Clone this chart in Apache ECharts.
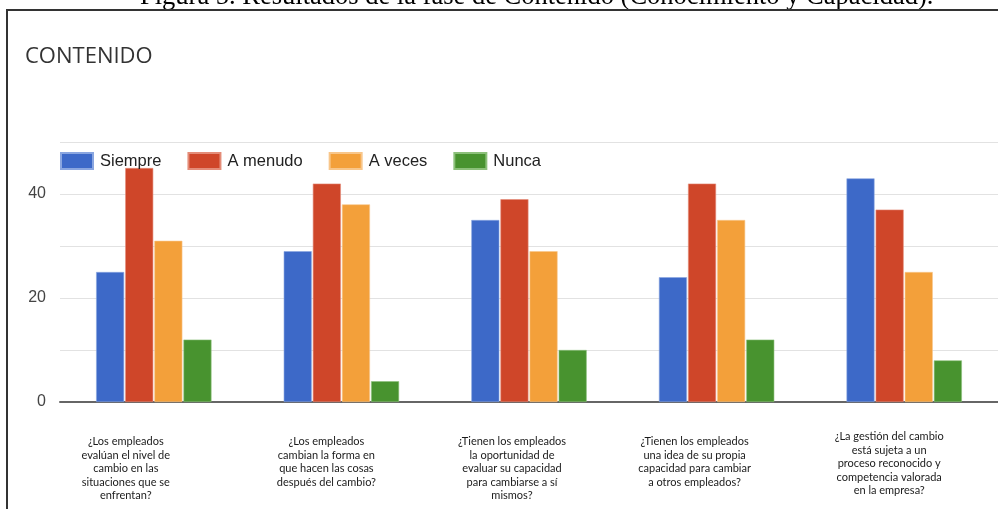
<!DOCTYPE html>
<html>
<head>
<meta charset="utf-8">
<script src="https://cdn.jsdelivr.net/npm/echarts@6/dist/echarts.min.js"></script>
<style>
  html, body { margin: 0; padding: 0; background: #fff; }
  #chart { width: 998px; height: 509px; }
</style>
</head>
<body>
<div id="chart"></div>
<script>
// question labels (line breaks as in the picture)
const categories = [
  "¿Los empleados\nevalúan el nivel de\ncambio en las\nsituaciones que se\nenfrentan?",
  "¿Los empleados\ncambian la forma en\nque hacen las cosas\ndespués del cambio?",
  "¿Tienen los empleados\nla oportunidad de\nevaluar su capacidad\npara cambiarse a sí\nmismos?",
  "¿Tienen los empleados\nuna idea de su propia\ncapacidad para cambiar\na otros empleados?",
  "¿La gestión del cambio\nestá sujeta a un\nproceso reconocido y\ncompetencia valorada\nen la empresa?"
];

const seriesNames = ["Siempre", "A menudo", "A veces", "Nunca"];
const siempre = [25, 29, 35, 24, 43];
const aMenudo = [45, 42, 39, 42, 37];
const aVeces = [31, 38, 29, 35, 25];
const nunca = [12, 4, 10, 12, 8];

const yMin = 0;
const yMax = 50;
const yStep = 10;
const yLabelStep = 20;

const colors = ["#3d69c8", "#cf4629", "#f3a03a", "#48932f"];
const borders = ["#8aa6e0", "#e48c78", "#f8c68a", "#8cc07a"];

// the question labels sit a bit left of their bar groups in the original
const labelShift = [28, 15, 17, 22, 15];
const labelLift = [0, 0, 0, 0, 5];

const chart = echarts.init(document.getElementById("chart"), null, { renderer: "canvas" });

const values = [siempre, aMenudo, aVeces, nunca];

chart.setOption({
  animation: false,
  backgroundColor: "#fff",
  title: {
    text: "CONTENIDO",
    left: 20,
    top: 41,
    textStyle: { fontFamily: "Open Sans", fontSize: 22, fontWeight: "normal", color: "#333" }
  },
  // figure caption cut at top + document box border
  graphic: [
    {
      type: "text",
      left: 140,
      top: -16,
      style: {
        text: "Figura 5. Resultados de la fase de Contenido (Conocimiento y Capacidad).",
        font: "26.5px 'Liberation Serif'",
        fill: "#000"
      }
    },
    {
      type: "rect",
      shape: { x: 7, y: 10, width: 1100, height: 600 },
      style: { fill: "none", stroke: "#333", lineWidth: 2 }
    }
  ],
  legend: {
    data: seriesNames,
    left: 60,
    top: 152,
    padding: 0,
    itemWidth: 32,
    itemHeight: 16,
    itemGap: 26,
    icon: "rect",
    textStyle: { fontFamily: "Liberation Sans", fontSize: 16.5, color: "#222", padding: [0, 0, 0, 2] }
  },
  grid: { left: 60, right: -2, top: 142, bottom: 107 },
  xAxis: {
    type: "category",
    data: categories.map((c, i) => ({
      value: c,
      textStyle: { padding: [5 - labelLift[i], labelShift[i] * 2, 0, 0] }
    })),
    axisTick: { show: false },
    axisLine: { lineStyle: { color: "#666", width: 2 } },
    axisLabel: {
      interval: 0,
      margin: 28,
      fontFamily: "Lato",
      fontSize: 11,
      lineHeight: 13.5,
      color: "#1a1a1a",
      align: "center"
    }
  },
  yAxis: {
    type: "value",
    min: yMin,
    max: yMax,
    interval: yStep,
    axisLine: { show: false },
    axisTick: { show: false },
    splitLine: { lineStyle: { color: "#e2e2e2", width: 1 } },
    axisLabel: {
      margin: 14,
      fontFamily: "Liberation Sans",
      fontSize: 16,
      color: "#444",
      formatter: (v) => (v % yLabelStep === 0 ? String(v) : "")
    }
  },
  series: seriesNames.map((name, i) => ({
    name: name,
    type: "bar",
    data: values[i],
    barWidth: 28,
    barGap: "4%",
    itemStyle: { color: colors[i], borderColor: borders[i], borderWidth: 0.6 }
  }))
});
</script>
</body>
</html>
